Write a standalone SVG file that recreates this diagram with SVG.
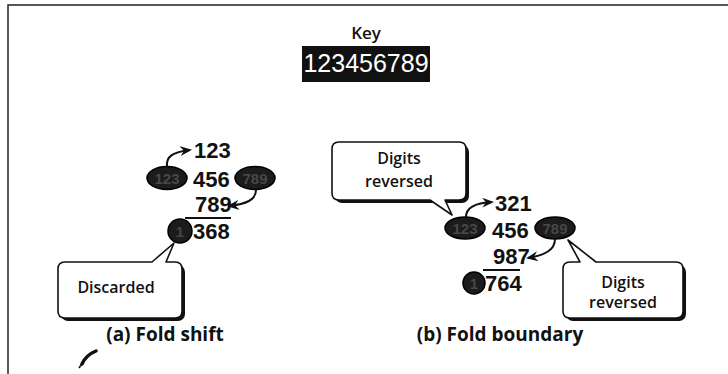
<svg xmlns="http://www.w3.org/2000/svg" width="728" height="374" viewBox="0 0 728 374">
<style>
.frame{fill:none;stroke:#222;stroke-width:1.5}
.num{font-family:"Liberation Sans Narrow","Liberation Sans",sans-serif;font-weight:bold;font-size:22px;fill:#111}
.blob{fill:#1c1c1c;stroke:#000;stroke-width:1.5}
.ghost{font-family:"Liberation Sans Narrow","Liberation Sans",sans-serif;font-size:15px;fill:#474747;text-anchor:middle;font-weight:bold}
.lbl{font-family:"Open Sans","Liberation Sans",sans-serif;font-weight:600;font-size:16px;fill:#111;text-anchor:middle}
.cap{font-family:"Open Sans","Liberation Sans",sans-serif;font-weight:bold;font-size:19px;fill:#111;text-anchor:middle}
.call{fill:#fff;stroke:#111;stroke-width:1.6;stroke-linejoin:round}
.shadow{fill:#111}
.arr{fill:none;stroke:#111;stroke-width:2}
.rule{stroke:#111;stroke-width:2}
</style>
<defs>
<marker id="ah" viewBox="0 0 12 10" refX="10" refY="5" markerWidth="12" markerHeight="10" markerUnits="userSpaceOnUse" orient="auto">
<path d="M0,0 L12,5 L0,10 L4,5 Z" fill="#111"/>
</marker>
</defs>
<rect width="728" height="374" fill="#fff"/>
<path class="frame" d="M8,374 L8,5 L728,5"/>

<g id="key">
<text x="366" y="39" class="lbl" style="font-size:17px">Key</text>
<rect x="302" y="46" width="128" height="36" fill="#111"/>
<text x="366" y="72" text-anchor="middle" style="font-family:'Liberation Sans Narrow','Liberation Sans',sans-serif;font-size:25px;fill:#fff">123456789</text>
</g>

<g id="fold-shift">
<text x="194" y="158" class="num">123</text>
<ellipse cx="167" cy="178" rx="20" ry="11.5" class="blob"/>
<text x="167" y="184" class="ghost">123</text>
<text x="193" y="187" class="num">456</text>
<ellipse cx="255" cy="178" rx="20" ry="11.5" class="blob"/>
<text x="255" y="184" class="ghost">789</text>
<text x="195" y="212" class="num">789</text>
<line x1="185" y1="218" x2="231" y2="218" class="rule"/>
<circle cx="180" cy="231" r="12" class="blob"/>
<text x="180" y="237" class="ghost">1</text>
<text x="193" y="239" class="num">368</text>
</g>

<g id="discarded">
<rect x="61" y="265" width="124" height="56" rx="7" class="shadow"/>
<path class="call" d="M65,262 L152,262 L174,243 L166,262 L175,262 Q182,262 182,269 L182,311 Q182,318 175,318 L65,318 Q58,318 58,311 L58,269 Q58,262 65,262 Z"/>
<text x="116" y="293" class="lbl">Discarded</text>
</g>

<g id="fold-boundary">
<text x="495" y="211" class="num">321</text>
<ellipse cx="465" cy="228" rx="20" ry="11" class="blob"/>
<text x="465" y="234" class="ghost">123</text>
<text x="492" y="238" class="num">456</text>
<ellipse cx="555" cy="228" rx="20" ry="11" class="blob"/>
<text x="555" y="234" class="ghost">789</text>
<text x="493" y="264" class="num">987</text>
<line x1="483" y1="270" x2="520" y2="270" class="rule"/>
<circle cx="474" cy="283" r="11" class="blob"/>
<text x="474" y="289" class="ghost">1</text>
<text x="485" y="291" class="num">764</text>
</g>

<g id="reversed-top">
<rect x="335" y="145" width="134" height="58" rx="7" class="shadow"/>
<path class="call" d="M339,142 L459,142 Q466,142 466,149 L466,193 Q466,200 459,200 L445,200 L452,215 L430,200 L339,200 Q332,200 332,193 L332,149 Q332,142 339,142 Z"/>
<text x="399" y="164" class="lbl">Digits</text>
<text x="399" y="187" class="lbl">reversed</text>
</g>

<g id="reversed-bottom">
<rect x="566" y="265" width="120" height="56" rx="7" class="shadow"/>
<path class="call" d="M570,262 L580,262 L568,240 L596,262 L676,262 Q683,262 683,269 L683,311 Q683,318 676,318 L570,318 Q563,318 563,311 L563,269 Q563,262 570,262 Z"/>
<text x="623" y="288" class="lbl">Digits</text>
<text x="623" y="308" class="lbl">reversed</text>
</g>

<g id="connectors">
<path class="arr" d="M167,166 C166,157 172,152 190,150" marker-end="url(#ah)"/>
<path class="arr" d="M256,190 C256,200 246,204 229,206" marker-end="url(#ah)"/>
<path class="arr" d="M466,217 C466,208 474,203 492,202" marker-end="url(#ah)"/>
<path class="arr" d="M555,239 C555,250 545,255 528,258" marker-end="url(#ah)"/>
</g>

<g id="captions">
<text x="165" y="341" class="cap">(a) Fold shift</text>
<text x="500" y="341" class="cap">(b) Fold boundary</text>
</g>

<path d="M82,364 Q86,355 96,351" fill="none" stroke="#111" stroke-width="3.5" stroke-linecap="round"/>
<path d="M85,359 L79,368" fill="none" stroke="#111" stroke-width="1.5"/>
</svg>
